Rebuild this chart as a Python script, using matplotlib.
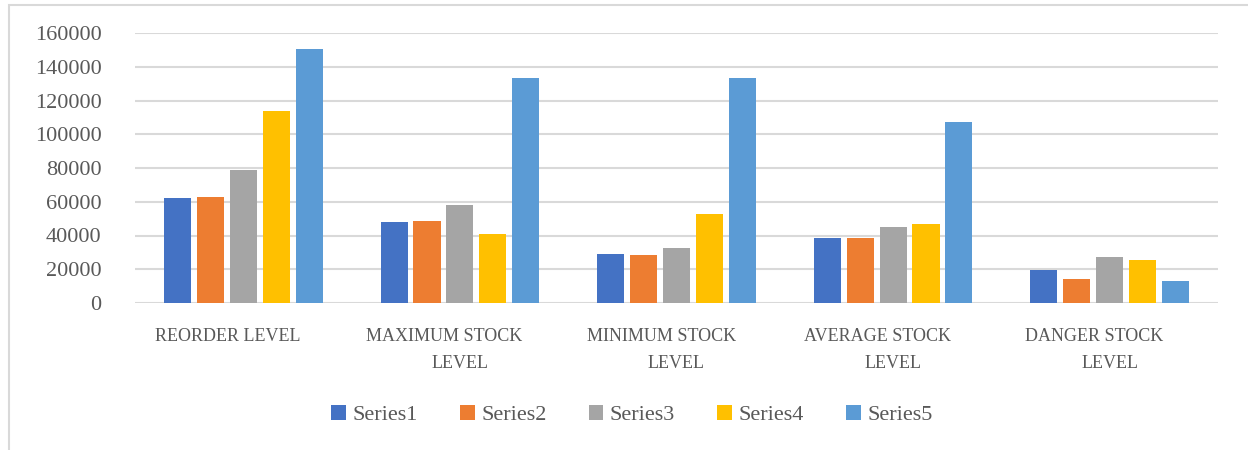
import numpy as np
import matplotlib
matplotlib.use("Agg")
import matplotlib.pyplot as plt
from matplotlib.patches import Rectangle

# ── Data ──────────────────────────────────────────────────────────────────────
categories = ["REORDER LEVEL", "MAXIMUM STOCK\nLEVEL", "MINIMUM STOCK\nLEVEL",
              "AVERAGE STOCK\nLEVEL", "DANGER STOCK\nLEVEL"]
series_names = ["Series1", "Series2", "Series3", "Series4", "Series5"]
series1 = [62200, 47900, 28900, 38400, 19400]
series2 = [62800, 48500, 28300, 38400, 14100]
series3 = [78800, 58000, 32500, 45000, 27100]
series4 = [113900, 40800, 52700, 46800, 25400]
series5 = [150700, 133500, 133500, 107400, 12900]
yticks = [0, 20000, 40000, 60000, 80000, 100000, 120000, 140000, 160000]

COLORS = ["#4472C4", "#ED7D31", "#A5A5A5", "#FFC000", "#5B9BD5"]
TEXT_C = "#595959"
GRID_C = "#D9D9D9"

plt.rcParams["font.family"] = ["Liberation Serif", "DejaVu Serif"]

fig = plt.figure(figsize=(12.48, 4.5), dpi=100)
ax = fig.add_axes([135 / 1248, 1 - 303 / 450, 1083 / 1248, 270 / 450])

# outer chart border
fig.patches.append(Rectangle((9 / 1248, -0.1), 1.2, 0.1 + 1 - 5 / 450,
                             transform=fig.transFigure, fill=False,
                             edgecolor="#D9D9D9", linewidth=1.5))

x = np.arange(len(categories))
width = 0.125
step = 0.152
all_series = [series1, series2, series3, series4, series5]
for i, (vals, name, color) in enumerate(zip(all_series, series_names, COLORS)):
    ax.bar(x + (i - 2) * step, vals, width=width, color=color, label=name,
           zorder=3)

ax.set_xlim(-0.5, len(categories) - 0.5)
ax.set_ylim(0, 160000)
ax.set_yticks(yticks)
ax.set_yticklabels([str(v) for v in yticks], fontsize=16, color=TEXT_C)
ax.set_xticks(x)
ax.set_xticklabels([])
ax.tick_params(axis="y", length=0, pad=24)
ax.tick_params(axis="x", length=0)
ax.grid(axis="y", color=GRID_C, linewidth=1.5, zorder=0)
for s in ax.spines.values():
    s.set_visible(False)

# category labels, wrapped the way the source chart wraps them
for xi, label in zip(x, categories):
    lines = label.split("\n")
    ax.annotate(lines[0], xy=(xi, 0), xycoords=("data", "axes fraction"),
                xytext=(-11, -23.8), textcoords="offset points",
                ha="center", va="center", fontsize=13, color=TEXT_C)
    if len(lines) > 1:
        ax.annotate(lines[1], xy=(xi, 0), xycoords=("data", "axes fraction"),
                    xytext=(0, -43.9), textcoords="offset points",
                    ha="center", va="center", fontsize=13, color=TEXT_C)

fig.legend(loc="center", bbox_to_anchor=(632 / 1248, 1 - 415 / 450), ncol=5,
           frameon=False, fontsize=16, handlelength=0.65, handleheight=0.65,
           handletextpad=0.3, columnspacing=1.9, labelcolor=TEXT_C)

fig.savefig("out.png", dpi=100)
